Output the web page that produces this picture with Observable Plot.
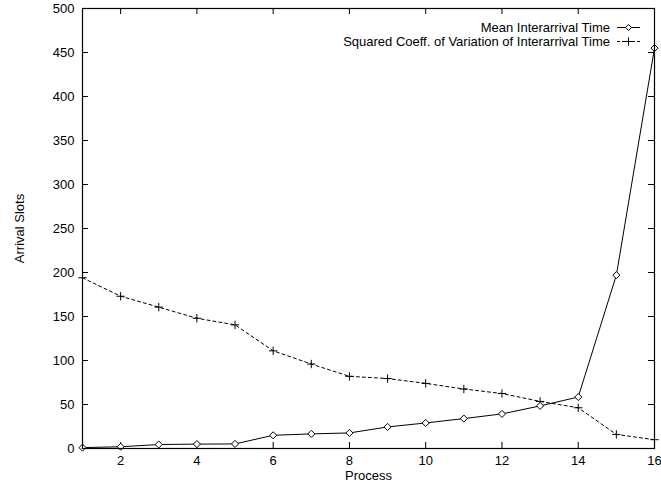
<!DOCTYPE html>
<html>
<head>
<meta charset="utf-8">
<script src="https://cdn.jsdelivr.net/npm/d3@7"></script>
<script src="https://cdn.jsdelivr.net/npm/@observablehq/plot@0.6"></script>
<style>
  html, body { margin: 0; padding: 0; background: #fff; }
  #chart { width: 661px; height: 483px; }
</style>
</head>
<body>
<div id="chart"></div>
<script>
const processes = [1, 2, 3, 4, 5, 6, 7, 8, 9, 10, 11, 12, 13, 14, 15, 16];
const meanInterarrival = [1, 2, 4.5, 5, 5.2, 15, 16.6, 17.7, 24.5, 29, 34, 39.3, 48.4, 58.5, 197, 455];
const scvInterarrival = [194, 173, 160.6, 148, 140.5, 111, 96, 82, 79.5, 74, 67.6, 62.5, 53.5, 46.3, 16, 10];
const seriesNames = ["Mean Interarrival Time", "Squared Coeff. of Variation of Interarrival Time"];
const xTicks = [2, 4, 6, 8, 10, 12, 14, 16];
const yTicks = [0, 50, 100, 150, 200, 250, 300, 350, 400, 450, 500];

const meanData = processes.map((p, i) => ({process: p, value: meanInterarrival[i]}));
const scvData = processes.map((p, i) => ({process: p, value: scvInterarrival[i]}));

const W = 661, H = 483;
const mL = 82, mR = 7, mT = 8, mB = 35;
const plotW = W - mL - mR, plotH = H - mT - mB;
const tick = 6;
const FONT = "'Liberation Sans', Arial, sans-serif";

// legend drawn as a function mark (layout only)
function legend(index, scales, values, dims) {
  const g = d3.create("svg:g")
    .attr("font-family", FONT)
    .attr("font-size", 13);
  const right = dims.width - dims.marginRight;
  const textX = right - 44, x1 = right - 37, x2 = right - 14;
  const rows = [
    {name: seriesNames[0], dash: null, sym: d3.symbolDiamond2, y: mT + 19.5},
    {name: seriesNames[1], dash: "3,2", sym: d3.symbolPlus, y: mT + 33.5}
  ];
  for (const r of rows) {
    g.append("text").attr("x", textX).attr("y", r.y).attr("dy", "0.35em")
      .attr("text-anchor", "end").attr("fill", "black").text(r.name);
    g.append("line").attr("x1", x1).attr("x2", x2).attr("y1", r.y).attr("y2", r.y)
      .attr("stroke", "black").attr("stroke-width", 1)
      .attr("stroke-dasharray", r.dash);
    g.append("path").attr("d", d3.symbol(r.sym, 24)())
      .attr("transform", `translate(${(x1 + x2) / 2},${r.y})`)
      .attr("fill", r.sym === d3.symbolDiamond2 ? "white" : "none")
      .attr("stroke", "black").attr("stroke-width", 1);
  }
  return g.node();
}

const chart = Plot.plot({
  width: W,
  height: H,
  marginLeft: mL,
  marginRight: mR,
  marginTop: mT,
  marginBottom: mB,
  style: {fontFamily: FONT, fontSize: "13px", color: "black", background: "white"},
  x: {domain: [1, 16]},
  y: {domain: [0, 500]},
  marks: [
    Plot.axisX({ticks: xTicks, tickSize: 0, tickPadding: 7, tickFormat: d => d, label: "Process", labelAnchor: "center", labelArrow: "none", labelOffset: 31, fontSize: 13}),
    Plot.axisY({ticks: yTicks, tickSize: 0, tickPadding: 8, tickFormat: d => d, label: null, fontSize: 13}),
    Plot.text(["Arrival Slots"], {frameAnchor: "left", textAnchor: "middle", dx: -63, rotate: -90, text: d => d, fontSize: 13, fill: "black"}),
    // inward tick marks on all four sides
    Plot.tickX(xTicks, {x: d => d, insetTop: plotH - tick, stroke: "black"}),
    Plot.tickX(xTicks, {x: d => d, insetBottom: plotH - tick, stroke: "black"}),
    Plot.tickY(yTicks, {y: d => d, insetRight: plotW - tick, stroke: "black"}),
    Plot.tickY(yTicks, {y: d => d, insetLeft: plotW - tick, stroke: "black"}),
    Plot.lineY(scvData, {x: "process", y: "value", stroke: "black", strokeWidth: 1, strokeDasharray: "3,3"}),
    Plot.dot(scvData, {x: "process", y: "value", symbol: "plus", r: 2.8, stroke: "black", strokeWidth: 1}),
    Plot.lineY(meanData, {x: "process", y: "value", stroke: "black", strokeWidth: 1}),
    Plot.dot(meanData, {x: "process", y: "value", symbol: "diamond2", r: 3.2, stroke: "black", fill: "white", strokeWidth: 1}),
    Plot.frame({stroke: "black", strokeWidth: 1.2}),
    legend
  ]
});
document.getElementById("chart").appendChild(chart);
</script>
</body>
</html>
